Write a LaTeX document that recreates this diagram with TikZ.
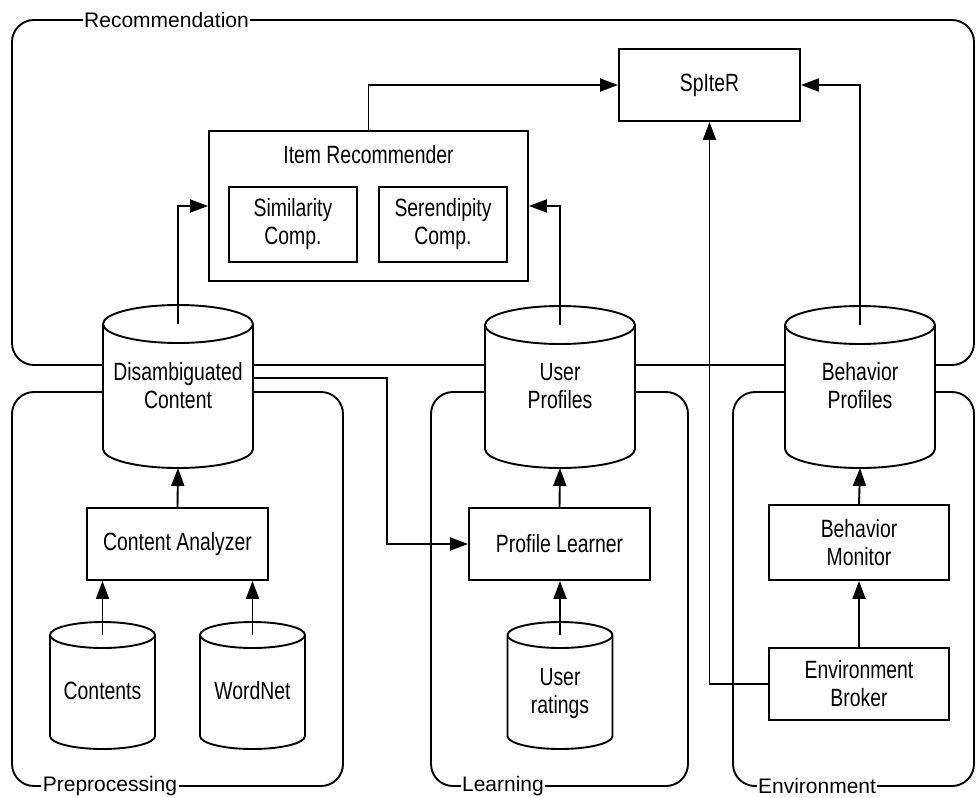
\documentclass[tikz,border=0pt]{standalone}
\usepackage{fontspec}
\setmainfont{Liberation Sans}
\newfontfamily\narrowfont{Liberation Sans}[FakeStretch=0.775]
\usetikzlibrary{arrows.meta}
% #1 name, #2 cx, #3 top, #4 bottom, #5 rx, #6 ry, #7 text y, #8 text
\newcommand\dbcyl[8]{%
  \draw[fill=white] (#2-#5,-#3-#6) -- (#2-#5,-#4+#6)
     arc[start angle=180,end angle=360,x radius=#5,y radius=#6]
     -- (#2+#5,-#3-#6)
     arc[start angle=0,end angle=360,x radius=#5,y radius=#6];
  \coordinate (#1-t) at (#2,-#3-#6);
  \coordinate (#1-b) at (#2,-#4);
  \node[txt] (#1) at (#2,-#7) {#8};
}
\begin{document}
\begin{tikzpicture}[x=1pt,y=1pt,line width=1.9pt,
  txt/.style={align=center,inner sep=0pt,font=\narrowfont\fontsize{25}{28}\selectfont},
  box/.style={draw,txt,fill=white},
  lbl/.style={fill=white,inner sep=1.5pt,font=\fontsize{21}{25}\selectfont},
  cont/.style={rounded corners=22pt},
  arr/.style={-{Triangle[length=18pt,width=13pt]}}]
\useasboundingbox (0,0) rectangle (976,-797);

% containers
\draw[cont] (12,-20) rectangle (974,-365);
\draw[cont] (12,-392) rectangle (343,-786);
\draw[cont] (431,-392) rectangle (688,-786);
\draw[cont] (733,-392) rectangle (974,-786);
\node[lbl] (lrec) at (166.5,-20) {Recommendation};
\node[lbl] (lpre) at (110,-786) {Preprocessing};
\node[lbl] (llea) at (503,-786) {Learning};
\node[lbl] (lenv) at (817,-786) {Environment};

% cylinders
\dbcyl{dc}{178}{305}{468}{75}{19}{386}{Disambiguated\\Content}
\dbcyl{up}{560}{306}{468}{75}{19}{386}{User\\Profiles}
\dbcyl{bp}{860}{306}{468}{75}{19}{386}{Behavior\\Profiles}
\dbcyl{ct}{102.5}{622}{749}{52.5}{13}{691}{Contents}
\dbcyl{wn}{252.5}{622}{749}{52.5}{13}{691}{WordNet}
\dbcyl{ur}{560}{622}{749}{52.5}{13}{693}{User\\ratings}

% boxes
\node[box,minimum width=181,minimum height=72] (spiter) at (709.5,-85) {SpIteR};
\node[box,minimum width=319,minimum height=150] (irec) at (368.5,-206) {};
\node[txt] (irect) at (368.5,-155) {Item Recommender};
\node[box,minimum width=128,minimum height=75] (sim) at (293,-224.5) {Similarity\\Comp.};
\node[box,minimum width=128,minimum height=75] (ser) at (443,-224.5) {Serendipity\\Comp.};
\node[box,minimum width=181,minimum height=72] (ca) at (177.5,-544) {Content Analyzer};
\node[box,minimum width=181,minimum height=72] (pl) at (559.5,-544) {Profile Learner};
\node[box,minimum width=180,minimum height=75] (bm) at (859,-542.5) {Behavior\\Monitor};
\node[box,minimum width=180,minimum height=72] (eb) at (859,-684) {Environment\\Broker};

% connectors
\draw[arr] (irec.north) |- (spiter.west);
\draw[arr] (dc-t) |- (irec.west);
\draw[arr] (up-t) |- (irec.east);
\draw[arr] (bp-t) |- (spiter.east);
\draw[arr] (ca.north) -- (dc-b);
\draw[arr] (ct-t) -- (ct-t |- ca.south);
\draw[arr] (wn-t) -- (wn-t |- ca.south);
\draw[arr] (pl.north) -- (up-b);
\draw[arr] (ur-t) -- (ur-t |- pl.south);
\draw[arr] (bm.north) -- (bp-b);
\draw[arr] (eb.north) -- (bm.south);
\draw[arr] (eb.west) -| (spiter.south);
\coordinate (dcR) at (253,-378);
\coordinate (dcbend) at (387,-378);
\draw[arr] (dcR) -- (dcbend) |- (pl.west);
\end{tikzpicture}
\end{document}
